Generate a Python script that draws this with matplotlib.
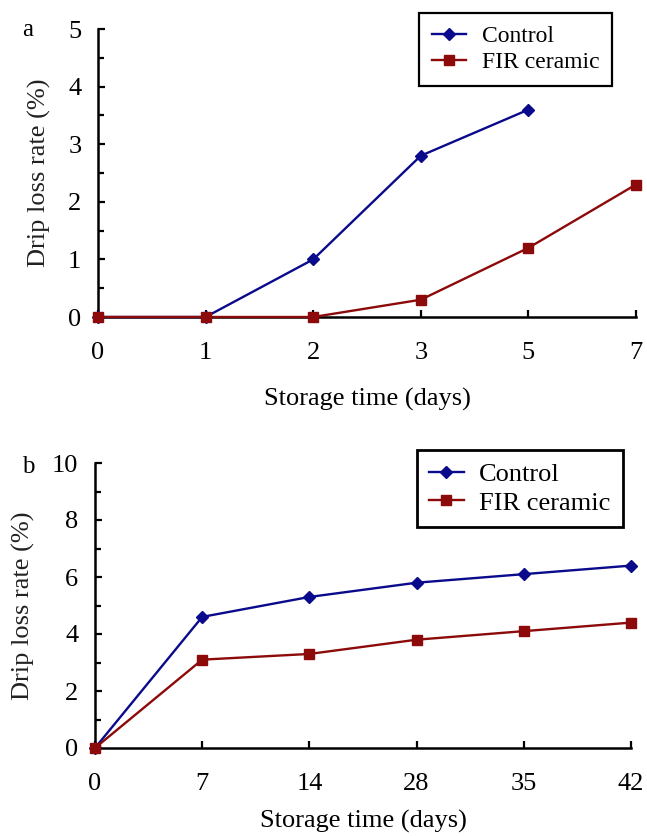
import matplotlib
matplotlib.use('Agg')
import matplotlib.pyplot as plt
from matplotlib.ticker import MultipleLocator

# Drip loss during storage, two trials
days_a = ['0', '1', '2', '3', '5', '7']
control_a = [0, 0, 1.0, 2.8, 3.6]
fir_a = [0, 0, 0, 0.3, 1.2, 2.3]

days_b = ['0', '7', '14', '28', '35', '42']
control_b = [0, 4.6, 5.3, 5.8, 6.1, 6.4]
fir_b = [0, 3.1, 3.3, 3.8, 4.1, 4.4]

blue = '#0a0a8c'
red = '#8c0a0a'

plt.rcParams['font.family'] = ['Liberation Serif', 'DejaVu Serif']

W, H = 647, 836
fig = plt.figure(figsize=(W / 100, H / 100), dpi=100)


def axes_px(left, top, right, bottom):
    return fig.add_axes([left / W, 1 - bottom / H, (right - left) / W, (bottom - top) / H])


def draw_panel(ax, days, control, fir, ymax, ystep, yminor, leg_size, leg_anchor,
               legend_lw, xlabelpad):
    ax.plot(range(len(control)), control, color=blue, lw=1.7, marker='D', ms=6.5,
            label='Control', clip_on=False, zorder=3)
    ax.plot(range(len(fir)), fir, color=red, lw=1.7, marker='s', ms=7,
            label='FIR ceramic', clip_on=False, zorder=4)
    ax.set_xlim(0, len(days) - 1)
    ax.set_ylim(0, ymax)
    ax.set_xticks(range(len(days)))
    ax.set_xticklabels(days)
    ax.yaxis.set_major_locator(MultipleLocator(ystep))
    ax.yaxis.set_minor_locator(MultipleLocator(yminor))
    for s in ['top', 'right']:
        ax.spines[s].set_visible(False)
    for s in ['left', 'bottom']:
        ax.spines[s].set_linewidth(1.8)
    ax.tick_params(direction='in', width=1.6, length=5, labelsize=19)
    ax.tick_params(axis='y', which='minor', direction='in', width=1.6, length=4)
    ax.tick_params(axis='y', pad=12)
    ax.tick_params(axis='x', pad=18)
    ax.set_xlabel('Storage time (days)', fontsize=19, labelpad=xlabelpad)
    ax.set_ylabel('Drip loss rate (%)', fontsize=19, labelpad=12, color='#222222')
    # handle and gap sized in points so both legends line up the same way
    leg = ax.legend(loc='upper right', bbox_to_anchor=leg_anchor, fancybox=False,
                    edgecolor='black', fontsize=leg_size,
                    handlelength=25 / leg_size, handletextpad=11 / leg_size,
                    borderpad=9 / leg_size, borderaxespad=0,
                    labelspacing=0.2, framealpha=1)
    leg.get_frame().set_linewidth(legend_lw)


ax_a = axes_px(98, 29, 636, 317)
draw_panel(ax_a, days_a, control_a, fir_a, 5, 1, 0.5, 17, (0.955, 1.056), 1.6, 17)
fig.text(22 / W, 1 - 30 / H, 'a', fontsize=18, ha='left', va='center')

ax_b = axes_px(95, 463, 631, 748)
draw_panel(ax_b, days_b, control_b, fir_b, 10, 2, 1, 19, (0.985, 1.046), 2.0, 11)
fig.text(22 / W, 1 - 467 / H, 'b', fontsize=18, ha='left', va='center')

fig.savefig('out.png', dpi=100)
